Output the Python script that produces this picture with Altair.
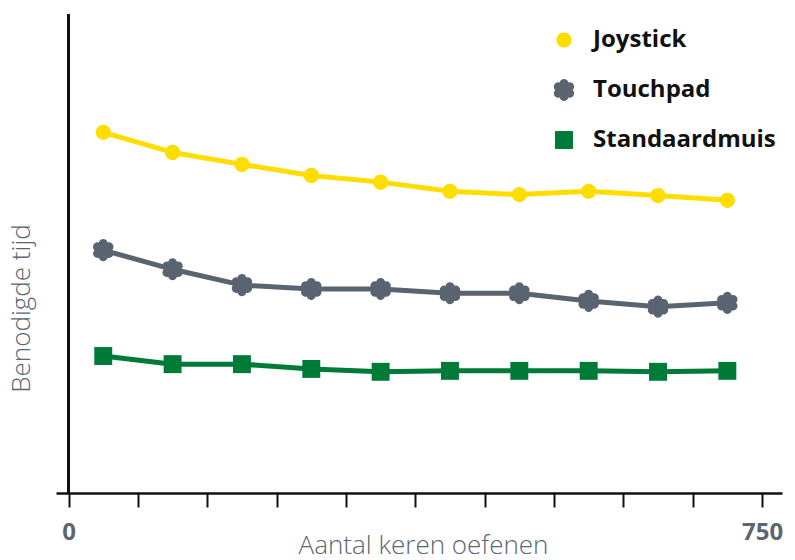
import math
import altair as alt
import pandas as pd

# ---- data ----
series = ["Joystick", "Touchpad", "Standaardmuis"]
oefenen = [37.5, 112.5, 187.5, 262.5, 337.5, 412.5, 487.5, 562.5, 637.5, 712.5]
joystick = [75.3, 71.1, 68.6, 66.3, 64.9, 63.0, 62.3, 63.0, 62.1, 61.1]
touchpad = [50.7, 46.7, 43.4, 42.6, 42.6, 41.7, 41.7, 40.1, 38.9, 39.7]
standaardmuis = [28.6, 26.9, 26.9, 25.9, 25.3, 25.5, 25.5, 25.5, 25.3, 25.5]
x_ticks = [0, 75, 150, 225, 300, 375, 450, 525, 600, 675, 750]
colors = ["#ffdd00", "#5a6470", "#007a37"]

rows = []
for name, col, vals in zip(series, colors, [joystick, touchpad, standaardmuis]):
    for x, v in zip(oefenen, vals):
        rows.append({"serie": name, "kleur": col, "oefenen": x, "tijd": v})
df = pd.DataFrame(rows)

# ---- marker shapes (unit paths) ----
def flower():
    ri, rc = 0.76, 1.10
    d = ""
    for k in range(6):
        th = math.radians(-90 + 60 * k)
        a0 = th - math.radians(30)
        c1 = th - math.radians(15)
        c2 = th + math.radians(15)
        a2 = th + math.radians(30)
        p0 = (ri * math.cos(a0), ri * math.sin(a0))
        if k == 0:
            d += "M%.3f,%.3f" % p0
        d += "C%.3f,%.3f %.3f,%.3f %.3f,%.3f" % (
            rc * math.cos(c1), rc * math.sin(c1),
            rc * math.cos(c2), rc * math.sin(c2),
            ri * math.cos(a2), ri * math.sin(a2))
    return d + "Z"

r = 0.66
circle_path = "M%.2f,0A%.2f,%.2f 0 1,1 -%.2f,0A%.2f,%.2f 0 1,1 %.2f,0Z" % (r, r, r, r, r, r, r)
s = 0.78
square_path = "M-%.2f,-%.2fL%.2f,-%.2fL%.2f,%.2fL-%.2f,%.2fZ" % (s, s, s, s, s, s, s, s)
shapes = [circle_path, flower(), square_path]

FONT = "Open Sans"
GREY = "#5b6670"
SYM = 529

xscale = alt.Scale(domain=[-13.6, 771.6], nice=False, zero=False)
yscale = alt.Scale(domain=[0, 100], nice=False)

base = alt.Chart(df).encode(
    x=alt.X("oefenen:Q", scale=xscale,
            axis=alt.Axis(values=x_ticks, title="Aantal keren oefenen",
                          labelExpr="datum.value == 0 || datum.value == 750 ? datum.label : ''",
                          grid=False, domainColor="#111111", domainWidth=2.5,
                          tickColor="#111111", tickWidth=2, tickSize=14,
                          labelFont=FONT, labelFontSize=24, labelFontWeight="bold",
                          labelColor=GREY, labelBaseline="alphabetic", labelPadding=32,
                          labelFlush=False,
                          titleFont=FONT, titleFontSize=26, titleFontWeight=300,
                          titleColor=GREY, titleX=367, titleY=60,
                          titleBaseline="alphabetic", titleAlign="center")),
    y=alt.Y("tijd:Q", scale=yscale,
            axis=alt.Axis(title="Benodigde tijd", domain=False, ticks=False,
                          labels=False, grid=False,
                          titleFont=FONT, titleFontSize=26, titleFontWeight=300,
                          titleColor=GREY, titleAngle=270, titleX=-27, titleY=294,
                          titleBaseline="alphabetic", titleAlign="center")),
)

lines = base.mark_line(strokeWidth=5, strokeJoin="round").encode(
    stroke=alt.Stroke("kleur:N", scale=None),
    detail="serie:N",
)

legend = alt.Legend(title=None, orient="none", legendX=496, legendY=14,
                    labelFont=FONT, labelFontSize=24, labelFontWeight="bold",
                    labelColor="#111111", labelOffset=17, rowPadding=26,
                    labelLimit=400,
                    symbolSize=SYM, symbolStrokeWidth=0, symbolOpacity=1,
                    padding=0)

points = base.mark_point(filled=True, opacity=1, size=SYM).encode(
    color=alt.Color("serie:N", scale=alt.Scale(domain=series, range=colors), legend=legend),
    shape=alt.Shape("serie:N", scale=alt.Scale(domain=series, range=shapes), legend=legend),
)

yline = alt.Chart(df).mark_rule(color="#111111", strokeWidth=2).encode(
    x=alt.datum(0, scale=xscale)
)

chart = alt.layer(yline, lines, points).properties(
    width=726, height=479,
    autosize=alt.AutoSizeParams(type="none"),
    padding={"left": 48, "top": 6, "right": 5, "bottom": 70},
    background="white",
).configure_view(stroke=None)

chart.save("out.html", embed_options={"renderer": "svg", "actions": False})
